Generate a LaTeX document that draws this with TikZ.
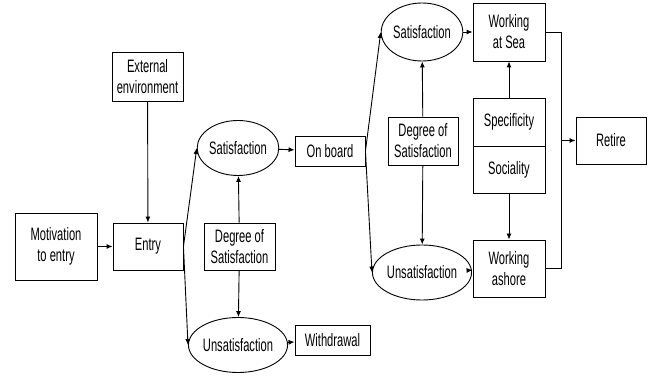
\documentclass[tikz,border=0pt]{standalone}
\usepackage{fontspec}
\setmainfont[FakeStretch=0.62]{Liberation Sans}
\usetikzlibrary{shapes.geometric,arrows.meta}
\begin{document}
\begin{tikzpicture}[x=1pt,y=-1pt,
  every node/.style={font=\fontsize{18}{21}\selectfont, align=center, inner sep=0pt},
  box/.style={draw, line width=0.9pt, rectangle},
  oval/.style={draw, line width=0.9pt, ellipse},
  arr/.style={line width=0.9pt, -{Latex[length=6pt,width=5pt]}},
  ln/.style={line width=0.9pt}]
\useasboundingbox (0,0) rectangle (649,377);
% left part
\node[box, minimum width=71pt, minimum height=49pt] (ext) at (147.5,76.5) {External\\environment};
\node[box, minimum width=82pt, minimum height=67pt] (mot) at (56,246.5) {Motivation\\to entry};
\node[box, minimum width=70pt, minimum height=47pt] (entry) at (148,246.5) {Entry};
\node[oval, minimum width=68pt, minimum height=55pt] (sat1) at (238,148) {Satisfaction};
\node[box, minimum width=70pt, minimum height=30pt] (onb) at (330,151) {On board};
\node[box, minimum width=71pt, minimum height=47pt] (deg1) at (239.5,246.5) {Degree of\\Satisfaction};
\node[oval, minimum width=72pt, minimum height=55pt] (uns1) at (238,345) {Unsatisfaction};
\node[box, minimum width=75pt, minimum height=30pt] (wd) at (332.5,340) {Withdrawal};
% right part
\node[oval, minimum width=70pt, minimum height=58pt] (sat2) at (422,32) {Satisfaction};
\node[box, minimum width=72pt, minimum height=58pt] (was) at (509,32) {Working\\at Sea};
\node[box, minimum width=70pt, minimum height=48pt] (deg2) at (423,141) {Degree of\\Satisfaction};
\node[box, minimum width=72pt, minimum height=48pt] (spec) at (509,122) {Specificity};
\node[box, minimum width=72pt, minimum height=47pt] (soc) at (509,169.5) {Sociality};
\node[box, minimum width=70pt, minimum height=47pt] (ret) at (611,140.5) {Retire};
\node[oval, minimum width=74pt, minimum height=55pt] (uns2) at (422,272.5) {Unsatisfaction};
\node[box, minimum width=72pt, minimum height=57pt] (wash) at (509,268.5) {Working\\ashore};
\coordinate (j) at (561,140.5);
% connectors
\draw[arr] (mot) -- (entry);
\draw[arr] (ext) -- (entry);
\draw[arr] (entry.east) -- (sat1.west);
\draw[arr] (entry.east) -- (uns1.west);
\draw[arr] (sat1) -- (onb);
\draw[arr] (uns1) -- (wd);
\draw[arr] (deg1) -- (sat1);
\draw[arr] (deg1) -- (uns1);
\draw[arr] (onb.east) -- (sat2.west);
\draw[arr] (onb.east) -- (uns2.west);
\draw[arr] (deg2) -- (sat2);
\draw[arr] (deg2) -- (uns2);
\draw[arr] (sat2) -- (was);
\draw[arr] (uns2) -- (wash);
\draw[arr] (spec) -- (was);
\draw[arr] (soc) -- (wash);
\draw[ln] (was.east) -- (was.east -| j) -- (wash.east -| j) -- (wash.east);
\draw[arr] (j) -- (ret);
\end{tikzpicture}
\end{document}
